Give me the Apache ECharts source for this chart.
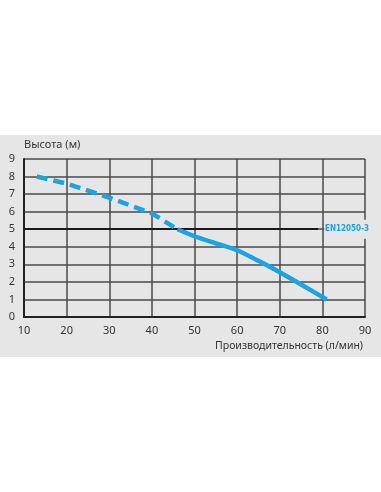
<!DOCTYPE html>
<html><head><meta charset="utf-8">
<script src="https://cdn.jsdelivr.net/npm/echarts@6/dist/echarts.min.js"></script>
<style>html,body{margin:0;padding:0;background:#fff}#c{width:381px;height:492px}</style>
</head><body><div id="c"></div>
<script>
var xTicks = [10, 20, 30, 40, 50, 60, 70, 80, 90];
var yTicks = [0, 1, 2, 3, 4, 5, 6, 7, 8, 9];
var dashedFlow = [13, 20, 30, 40, 46];
var dashedHead = [8.0, 7.6, 6.8, 5.9, 5.0];
var solidFlow = [46, 50, 55, 60, 65, 70, 75, 81];
var solidHead = [5.0, 4.6, 4.2, 3.8, 3.2, 2.55, 1.85, 1.0];
var refLevel = 5;
var refStart = 10, refEnd = 79;
var refLabel = 'EN12050-3';
var yName = 'Высота (м)';
var xName = 'Производительность (л/мин)';

function pairs(xs, ys){ return xs.map(function(x,i){ return [x, ys[i]]; }); }
var blue = '#1ba3e3';
var bg = '#e6e6e7';
var font = 'Noto Sans';
var chart = echarts.init(document.getElementById('c'));
chart.setOption({
  backgroundColor: '#ffffff',
  animation: false,
  graphic: [{type:'rect', z:-10, shape:{x:0, y:135, width:381, height:222}, style:{fill:bg}}],
  grid: {left: 24, right: 16, top: 159, bottom: 175},
  xAxis: {
    type: 'value', min: xTicks[0], max: xTicks[xTicks.length-1], interval: 10,
    name: xName, nameLocation: 'end', nameGap: -2,
    nameTextStyle: {align:'right', verticalAlign:'top', padding:[24,0,0,0], fontSize: 10.5, color:'#333', fontFamily: font},
    axisLine: {show:true, lineStyle:{color:'#222', width:2}},
    axisTick: {show:false},
    axisLabel: {color:'#333', fontSize:11, margin:8, fontFamily: font},
    splitLine: {show:true, lineStyle:{color:'#4a4a4a', width:1.5}}
  },
  yAxis: {
    type: 'value', min: yTicks[0], max: yTicks[yTicks.length-1], interval: 1,
    name: yName, nameLocation: 'end', nameGap: 9,
    nameTextStyle: {align:'left', fontSize: 11, color:'#333', fontFamily: font},
    axisLine: {show:true, lineStyle:{color:'#222', width:2}},
    axisTick: {show:false},
    axisLabel: {color:'#333', fontSize:11, margin:9, fontFamily: font},
    splitLine: {show:true, lineStyle:{color:'#4a4a4a', width:1.5}}
  },
  series: [
    {
      type: 'line', data: pairs(dashedFlow, dashedHead), showSymbol: false, symbol:'none',
      lineStyle: {color: blue, width: 4.5, type: [11, 6], cap: 'butt'}, z: 5
    },
    {
      type: 'line', data: pairs(solidFlow, solidHead), showSymbol: false, symbol:'none', smooth: 0.2,
      lineStyle: {color: blue, width: 4.5, cap: 'butt'}, z: 5
    },
    {
      type: 'line', data: [], z: 4,
      markLine: {
        silent: true, symbol: ['none','none'],
        lineStyle: {color:'#1a1a1a', width: 2, type:'solid'},
        label: {show:true, position:'end', formatter: refLabel, color: blue, fontWeight:'bold',
                fontSize: 8, fontFamily: 'DejaVu Sans Condensed', backgroundColor: bg, padding:[6,1,5,1], distance: 6},
        data: [[{coord:[refStart, refLevel]}, {coord:[refEnd, refLevel]}]]
      }
    }
  ]
});
</script></body></html>
